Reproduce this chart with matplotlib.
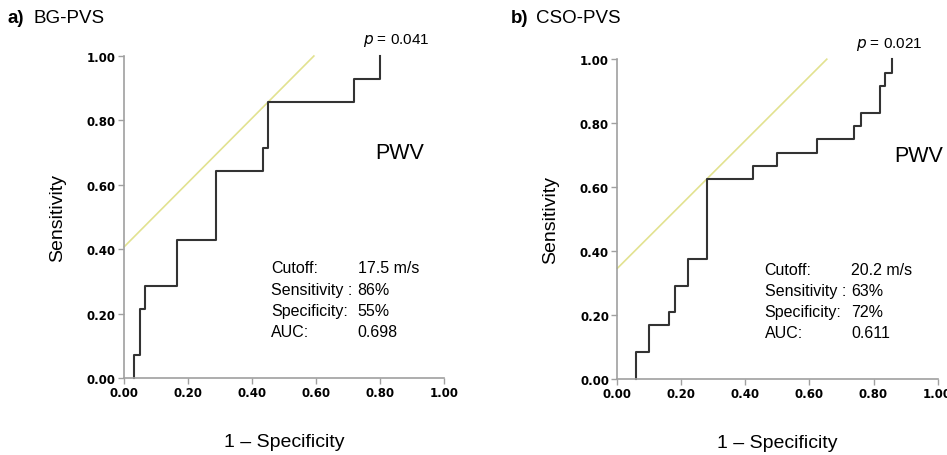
import numpy as np
import matplotlib
matplotlib.use("Agg")
from matplotlib import pyplot as plt

# ROC step breakpoints (1 - specificity, sensitivity)
fpr_a = [0.031, 0.05, 0.066, 0.166, 0.286, 0.433, 0.45, 0.717, 0.80]
tpr_a = [0.071, 0.214, 0.286, 0.429, 0.643, 0.714, 0.857, 0.929, 1.0]
fpr_b = [0.059, 0.099, 0.161, 0.179, 0.221, 0.279, 0.422, 0.497, 0.622, 0.74, 0.76, 0.82, 0.836, 0.859]
tpr_b = [0.083, 0.167, 0.208, 0.292, 0.375, 0.625, 0.667, 0.708, 0.75, 0.792, 0.833, 0.917, 0.958, 1.0]

# cutoff points the tangent line passes through
cut_a = (0.45, 0.857)
cut_b = (0.279, 0.625)

titles = ["a)", "b)"]
names = ["BG-PVS", "CSO-PVS"]
p_vals = ["0.041", "0.021"]
stats_a = ["17.5 m/s", "86%", "55%", "0.698"]
stats_b = ["20.2 m/s", "63%", "72%", "0.611"]
stat_names = ["Cutoff:", "Sensitivity :", "Specificity:", "AUC:"]
ticks = [0.0, 0.2, 0.4, 0.6, 0.8, 1.0]

font = "Liberation Sans"
gray = "#a0a0a0"
yellow = "#e2e290"


def step_xy(fpr, tpr):
    """corners of the step curve: up first, then right"""
    x = np.repeat(fpr, 2)
    y = np.concatenate([[0.0], np.repeat(tpr, 2)[:-1]])
    return x, y


def draw_panel(ax, fpr, tpr, cut, p, stats, pwv_x):
    c = cut[1] - cut[0]
    ax.plot([0, 1 - c], [c, 1], color=yellow, lw=1.2, clip_on=False, zorder=1)
    x, y = step_xy(fpr, tpr)
    ax.plot(x, y, color="#333333", lw=1.5, clip_on=False, zorder=2)
    ax.set_xlim(0, 1)
    ax.set_ylim(0, 1)
    ax.set_xticks(ticks)
    ax.set_yticks(ticks)
    ax.set_xticklabels([f"{t:.2f}" for t in ticks], fontweight="bold", fontsize=8.5, family="DejaVu Sans")
    ax.set_yticklabels([f"{t:.2f}" for t in ticks], fontweight="bold", fontsize=8.5, family="DejaVu Sans")
    ax.tick_params(direction="out", length=4, width=1, color=gray, pad=2)
    for s in ["top", "right"]:
        ax.spines[s].set_visible(False)
    for s in ["left", "bottom"]:
        ax.spines[s].set_color(gray)
        ax.spines[s].set_linewidth(1.2)
    ax.set_ylabel("Sensitivity", fontsize=14, family=font, labelpad=15)
    ax.set_xlabel("1 \u2013 Specificity", fontsize=14, family=font, labelpad=24)
    ax.text(0.85, 1.05, r"$\it{p}$ = " + p, fontsize=11, family=font, ha="center",
            va="center", transform=ax.transAxes)
    ax.text(pwv_x, 0.70, "PWV", fontsize=15.5, family=font, ha="center", va="center",
            transform=ax.transAxes)
    for i, (n, v) in enumerate(zip(stat_names, stats)):
        yy = 0.342 - i * 0.066
        ax.text(0.46, yy, n, fontsize=11.5, family=font, va="center", transform=ax.transAxes)
        ax.text(0.73, yy, v, fontsize=11.5, family=font, va="center", transform=ax.transAxes)


fig = plt.figure(figsize=(9.47, 4.56), dpi=100)
ax1 = fig.add_axes([0.131, 0.169, 0.338, 0.706])
ax2 = fig.add_axes([0.652, 0.167, 0.338, 0.701])

draw_panel(ax1, fpr_a, tpr_a, cut_a, p_vals[0], stats_a, 0.86)
draw_panel(ax2, fpr_b, tpr_b, cut_b, p_vals[1], stats_b, 0.94)

fig.text(0.008, 0.96, titles[0], fontsize=13.5, fontweight="bold", family=font, va="center")
fig.text(0.035, 0.96, names[0], fontsize=13.5, family=font, va="center")
fig.text(0.539, 0.96, titles[1], fontsize=13.5, fontweight="bold", family=font, va="center")
fig.text(0.566, 0.96, names[1], fontsize=13.5, family=font, va="center")

fig.savefig("out.png", dpi=100)
